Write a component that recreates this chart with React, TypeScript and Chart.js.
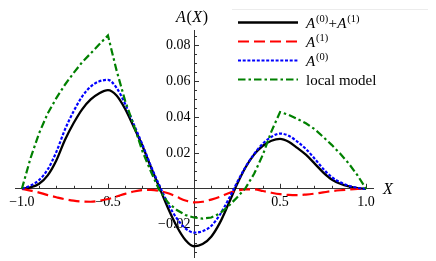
import React, { useEffect, useRef } from "react";
import { Chart, registerables } from "chart.js";

Chart.register(...registerables);

// ---------- data ----------
const xValues = [
  -1, -0.95, -0.9, -0.85, -0.8, -0.75, -0.7, -0.65, -0.6, -0.55, -0.5, -0.45, -0.4, -0.35, -0.3, -0.25, -0.2, -0.15, -0.1, -0.05,
  0, 0.05, 0.1, 0.15, 0.2, 0.25, 0.3, 0.35, 0.4, 0.45, 0.5, 0.55, 0.6, 0.65, 0.7, 0.75, 0.8, 0.85, 0.9, 0.95, 1,
];
const sumValues = [
  0, 0.0008, 0.0028, 0.0075, 0.0158, 0.0272, 0.0365, 0.0443, 0.0498, 0.0533, 0.055, 0.052, 0.0445, 0.0345, 0.024, 0.012, 0.0005, -0.011, -0.021, -0.0285,
  -0.032, -0.0308, -0.0267, -0.019, -0.0085, 0.0025, 0.012, 0.0192, 0.024, 0.0268, 0.0278, 0.0262, 0.0228, 0.019, 0.0142, 0.0092, 0.0052, 0.0028, 0.0013, 0.0004, 0,
];
const a1Values = [
  0, -0.001, -0.0021, -0.0035, -0.0047, -0.0058, -0.0066, -0.0071, -0.0072, -0.0066, -0.0057, -0.0043, -0.0028, -0.0015, -0.0007, -0.0006, -0.0012, -0.0025, -0.0045, -0.0065,
  -0.0076, -0.0072, -0.006, -0.0045, -0.0025, -0.001, -0.0003, -0.0003, -0.0012, -0.0022, -0.003, -0.0034, -0.0035, -0.0032, -0.0027, -0.002, -0.0013, -0.0008, -0.0004, -0.0001, 0,
];
const a0Values = [
  0, 0.0018, 0.0049, 0.0108, 0.0205, 0.033, 0.0431, 0.0514, 0.057, 0.0599, 0.0607, 0.0563, 0.0473, 0.036, 0.0247, 0.0126, 0.0017, -0.0085, -0.0165, -0.022,
  -0.0244, -0.0236, -0.0207, -0.0145, -0.006, 0.0035, 0.0123, 0.0195, 0.0252, 0.029, 0.0308, 0.0296, 0.0263, 0.0222, 0.0169, 0.0112, 0.0065, 0.0036, 0.0017, 0.0005, 0,
];
const localValues = [
  0, 0.017, 0.031, 0.042, 0.0505, 0.058, 0.0645, 0.0705, 0.0755, 0.0805, 0.0855, 0.066, 0.049, 0.0355, 0.021, 0.0095, -0.001, -0.0078, -0.0118, -0.0146,
  -0.016, -0.0166, -0.016, -0.0137, -0.0097, -0.0048, 0.0005, 0.0085, 0.019, 0.032, 0.0428, 0.0412, 0.039, 0.0365, 0.0333, 0.029, 0.0245, 0.0195, 0.014, 0.0075, 0,
];

const xTickValues = [-1, -0.5, 0.5, 1];
const xTickLabels = ["\u22121.0", "\u22120.5", "0.5", "1.0"];
const yTickValues = [-0.02, 0.02, 0.04, 0.06, 0.08];
const yTickLabels = ["\u22120.02", "0.02", "0.04", "0.06", "0.08"];
const xMinorTickValues = [
  -1, -0.9, -0.8, -0.7, -0.6, -0.5, -0.4, -0.3, -0.2, -0.1, 0.1, 0.2, 0.3, 0.4, 0.5, 0.6, 0.7, 0.8, 0.9, 1,
];
const yMinorTickValues = [
  -0.035, -0.03, -0.025, -0.02, -0.015, -0.01, -0.005, 0.005, 0.01, 0.015, 0.02, 0.025, 0.03, 0.035, 0.04, 0.045,
  0.05, 0.055, 0.06, 0.065, 0.07, 0.075, 0.08, 0.085,
];

type Part = { t: string; italic?: boolean; sup?: boolean };
const legendLabels: Part[][] = [
  [{ t: "A", italic: true }, { t: "(0)", sup: true }, { t: "+" }, { t: "A", italic: true }, { t: "(1)", sup: true }],
  [{ t: "A", italic: true }, { t: "(1)", sup: true }],
  [{ t: "A", italic: true }, { t: "(0)", sup: true }],
  [{ t: "local model" }],
];
const yTitle: Part[] = [{ t: "A", italic: true }, { t: "(" }, { t: "X", italic: true }, { t: ")" }];
const xTitle: Part[] = [{ t: "X", italic: true }];

// ---------- styles ----------
const SERIF = '"Liberation Serif", "Times New Roman", serif';
const seriesStyles = [
  { color: "#000000", dash: [] as number[], width: 2.3 },
  { color: "#ff0000", dash: [11, 5], width: 2.2 },
  { color: "#0000ff", dash: [3, 1.7], width: 2.2 },
  { color: "#008000", dash: [7.5, 3, 2.5, 3], width: 2.2 },
];

function near(a: number, list: number[]) {
  return list.some((b) => Math.abs(a - b) < 1e-9);
}

function drawRich(ctx: CanvasRenderingContext2D, parts: Part[], x: number, y: number, size: number) {
  let cx = x;
  for (const p of parts) {
    const fs = p.sup ? size * 0.7 : size;
    ctx.font = `${p.italic ? "italic " : ""}${fs}px ${SERIF}`;
    const dy = p.sup ? -size * 0.42 : 0;
    ctx.fillText(p.t, cx, y + dy);
    cx += ctx.measureText(p.t).width + (p.italic ? 0.8 : 0.3);
  }
}

const zeroPadding = (s: any) => {
  s.paddingTop = 0;
  s.paddingBottom = 0;
  s.paddingLeft = 0;
  s.paddingRight = 0;
};

const decorPlugin = {
  id: "decor",
  beforeDatasetsDraw(chart: any) {
    const ctx: CanvasRenderingContext2D = chart.ctx;
    const xs = chart.scales.x;
    const ys = chart.scales.y;
    const x0 = xs.getPixelForValue(0);
    const y0 = ys.getPixelForValue(0);
    ctx.save();
    ctx.strokeStyle = "#333";
    ctx.lineWidth = 1;
    ctx.beginPath();
    for (const v of xMinorTickValues) {
      const px = Math.round(xs.getPixelForValue(v)) + 0.5;
      const len = near(v, xTickValues) ? 5 : 3;
      ctx.moveTo(px, y0);
      ctx.lineTo(px, y0 - len);
    }
    for (const v of yMinorTickValues) {
      const py = Math.round(ys.getPixelForValue(v)) + 0.5;
      const len = near(v, yTickValues) ? 5 : 3;
      ctx.moveTo(x0, py);
      ctx.lineTo(x0 + len, py);
    }
    ctx.stroke();
    ctx.restore();
  },
  afterDraw(chart: any) {
    const ctx: CanvasRenderingContext2D = chart.ctx;
    const xs = chart.scales.x;
    const ys = chart.scales.y;
    ctx.save();
    ctx.fillStyle = "#000";
    ctx.textBaseline = "alphabetic";
    ctx.textAlign = "left";
    // axis titles
    drawRich(ctx, yTitle, xs.getPixelForValue(0) - 18, ys.top - 8, 16);
    drawRich(ctx, xTitle, xs.right + 10, ys.getPixelForValue(0) + 5, 16);

    // legend
    const lx = 232;
    const ly = 9;
    ctx.fillStyle = "#ffffff";
    ctx.fillRect(lx, ly, 196, 84);
    ctx.strokeStyle = "#ececec";
    ctx.lineWidth = 1;
    ctx.beginPath();
    ctx.moveTo(lx, ly + 0.5);
    ctx.lineTo(lx + 196, ly + 0.5);
    ctx.stroke();
    const rowY = [22.5, 41.5, 60.5, 79.5];
    legendLabels.forEach((parts, i) => {
      const st = seriesStyles[i];
      ctx.strokeStyle = st.color;
      ctx.lineWidth = st.width;
      ctx.setLineDash(st.dash);
      ctx.beginPath();
      ctx.moveTo(238, rowY[i]);
      ctx.lineTo(298, rowY[i]);
      ctx.stroke();
      ctx.setLineDash([]);
      ctx.fillStyle = "#000";
      drawRich(ctx, parts, 306, rowY[i] + 5.5, 15);
    });
    ctx.restore();
  },
};

export default function App() {
  const ref = useRef<HTMLCanvasElement | null>(null);
  useEffect(() => {
    if (!ref.current) return;
    const series = [sumValues, a1Values, a0Values, localValues];
    const chart = new Chart(ref.current, {
      type: "line",
      data: {
        datasets: series.map((vals, i) => ({
          data: xValues.map((x, j) => ({ x, y: vals[j] })),
          borderColor: seriesStyles[i].color,
          borderWidth: seriesStyles[i].width,
          borderDash: seriesStyles[i].dash,
          pointRadius: 0,
          fill: false,
          tension: i === 3 ? 0 : 0.4,
          cubicInterpolationMode: i === 3 ? "default" : "monotone",
          order: 4 - i,
        })) as any,
      },
      options: {
        responsive: false,
        animation: false,
        layout: { padding: { left: 15, right: 63, top: 30, bottom: 4 } },
        plugins: { legend: { display: false }, tooltip: { enabled: false } },
        scales: {
          x: {
            type: "linear",
            min: -1.04,
            max: 1.04,
            position: { y: 0 } as any,
            grid: { display: false, drawTicks: false },
            border: { display: true, color: "#333", width: 1 },
            afterBuildTicks: (s: any) => {
              s.ticks = xTickValues.map((v) => ({ value: v }));
            },
            afterFit: zeroPadding,
            ticks: {
              autoSkip: false,
              maxRotation: 0,
              padding: 5,
              color: "#000",
              font: { family: SERIF, size: 14 },
              callback: (v: any) => {
                const k = xTickValues.findIndex((t) => Math.abs(t - Number(v)) < 1e-9);
                return k >= 0 ? xTickLabels[k] : "";
              },
            },
          },
          y: {
            type: "linear",
            min: -0.038,
            max: 0.0885,
            position: { x: 0 } as any,
            grid: { display: false, drawTicks: false },
            border: { display: true, color: "#333", width: 1 },
            afterBuildTicks: (s: any) => {
              s.ticks = yTickValues.map((v) => ({ value: v }));
            },
            afterFit: zeroPadding,
            ticks: {
              autoSkip: false,
              padding: 4,
              color: "#000",
              font: { family: SERIF, size: 14 },
              callback: (v: any) => {
                const k = yTickValues.findIndex((t) => Math.abs(t - Number(v)) < 1e-9);
                return k >= 0 ? yTickLabels[k] + " " : "";
              },
            },
          },
        },
      },
      plugins: [decorPlugin as any],
    });
    return () => chart.destroy();
  }, []);
  return (
    <canvas
      ref={ref}
      width={436}
      height={261}
      style={{ position: "fixed", left: 0, top: 0, display: "block", background: "#fff" }}
    />
  );
}
